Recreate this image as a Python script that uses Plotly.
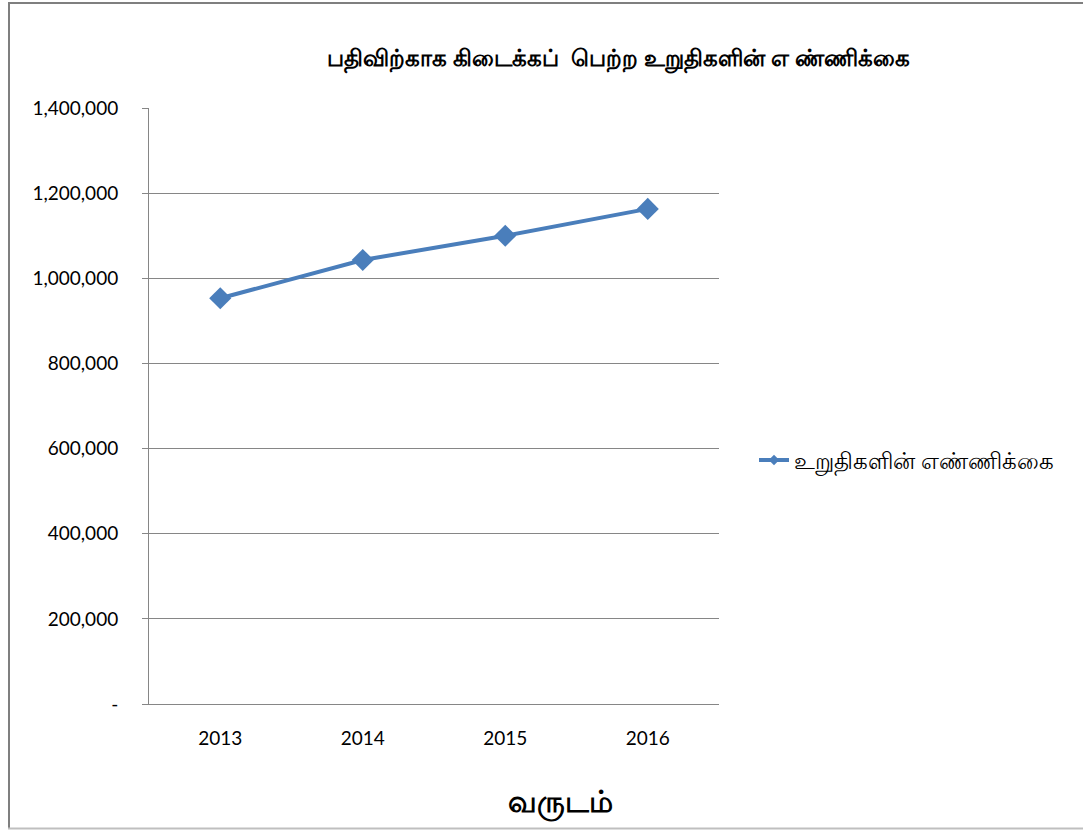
import plotly.graph_objects as go

years = ["2013", "2014", "2015", "2016"]
counts = [953000, 1043000, 1100000, 1163000]
y_tick_vals = [0, 200000, 400000, 600000, 800000, 1000000, 1200000, 1400000]
y_tick_text = ["-", "200,000", "400,000", "600,000", "800,000", "1,000,000", "1,200,000", "1,400,000"]

title_text = "பதிவிற்காக கிடைக்கப்  பெற்ற உறுதிகளின் எ ண்ணிக்கை"
series_name = "உறுதிகளின் எண்ணிக்கை"
x_title = "வருடம்"

L, R, T, B = 149, 719, 108, 704
W, H = 1083, 830
BLUE = "#4A7EBB"

def px(x):
    return (x - L) / (R - L)

def py(y):
    return (B - y) / (B - T)

fig = go.Figure()
fig.add_trace(go.Scatter(
    x=years, y=counts, mode="lines+markers", name=series_name,
    line=dict(color=BLUE, width=4),
    marker=dict(symbol="diamond", size=17, color=BLUE),
    showlegend=False,
))
# legend entry with the small marker used in the reference legend
fig.add_trace(go.Scatter(
    x=[None], y=[None], mode="lines+markers", name=series_name,
    line=dict(color=BLUE, width=4),
    marker=dict(symbol="diamond", size=8, color=BLUE),
    showlegend=True,
))

fig.update_layout(
    width=W, height=H,
    margin=dict(l=L, r=W - R, t=T, b=H - B),
    paper_bgcolor="white", plot_bgcolor="white",
    font=dict(family="Lato, 'Noto Sans', sans-serif", color="#000000"),
    showlegend=True,
    legend=dict(x=px(754), y=py(460), xanchor="left", yanchor="middle",
                font=dict(size=23, family="'Noto Sans', Lato, sans-serif"),
                bgcolor="rgba(0,0,0,0)"),
    xaxis=dict(type="category", showgrid=False, showline=True, linecolor="#868686",
               linewidth=1, ticks="", tickfont=dict(size=19), ticklabelstandoff=17,
               range=[-0.5, 3.5], fixedrange=True),
    yaxis=dict(range=[0, 1400000], tickvals=y_tick_vals, ticktext=y_tick_text,
               showgrid=True, gridcolor="#868686", gridwidth=1,
               showline=True, linecolor="#868686", linewidth=1,
               ticks="outside", ticklen=6, tickcolor="#868686",
               ticklabelstandoff=20,
               tickfont=dict(size=19), zeroline=False),
    shapes=[
        dict(type="line", xref="paper", yref="paper", x0=px(9), x1=px(9),
             y0=py(829), y1=py(3), line=dict(color="#7F7F7F", width=2), layer="below"),
        dict(type="line", xref="paper", yref="paper", x0=px(8), x1=px(1090),
             y0=py(3), y1=py(3), line=dict(color="#7F7F7F", width=2), layer="below"),
        dict(type="line", xref="paper", yref="paper", x0=px(8), x1=px(1090),
             y0=py(828.5), y1=py(828.5), line=dict(color="#BFBFBF", width=2), layer="below"),
    ],
    annotations=[
        dict(text="<b>" + title_text + "</b>", xref="paper", yref="paper",
             x=px(618), y=py(57), xanchor="center", yanchor="middle",
             showarrow=False, font=dict(size=23, family="'Noto Sans', sans-serif")),
        dict(text="<b>" + x_title + "</b>", xref="paper", yref="paper",
             x=px(560), y=py(801), xanchor="center", yanchor="middle",
             showarrow=False, font=dict(size=30, family="'Noto Sans', sans-serif")),
    ],
)

fig.write_html("out.html", config={"displayModeBar": False},
               post_script="document.body.style.margin='0';")
